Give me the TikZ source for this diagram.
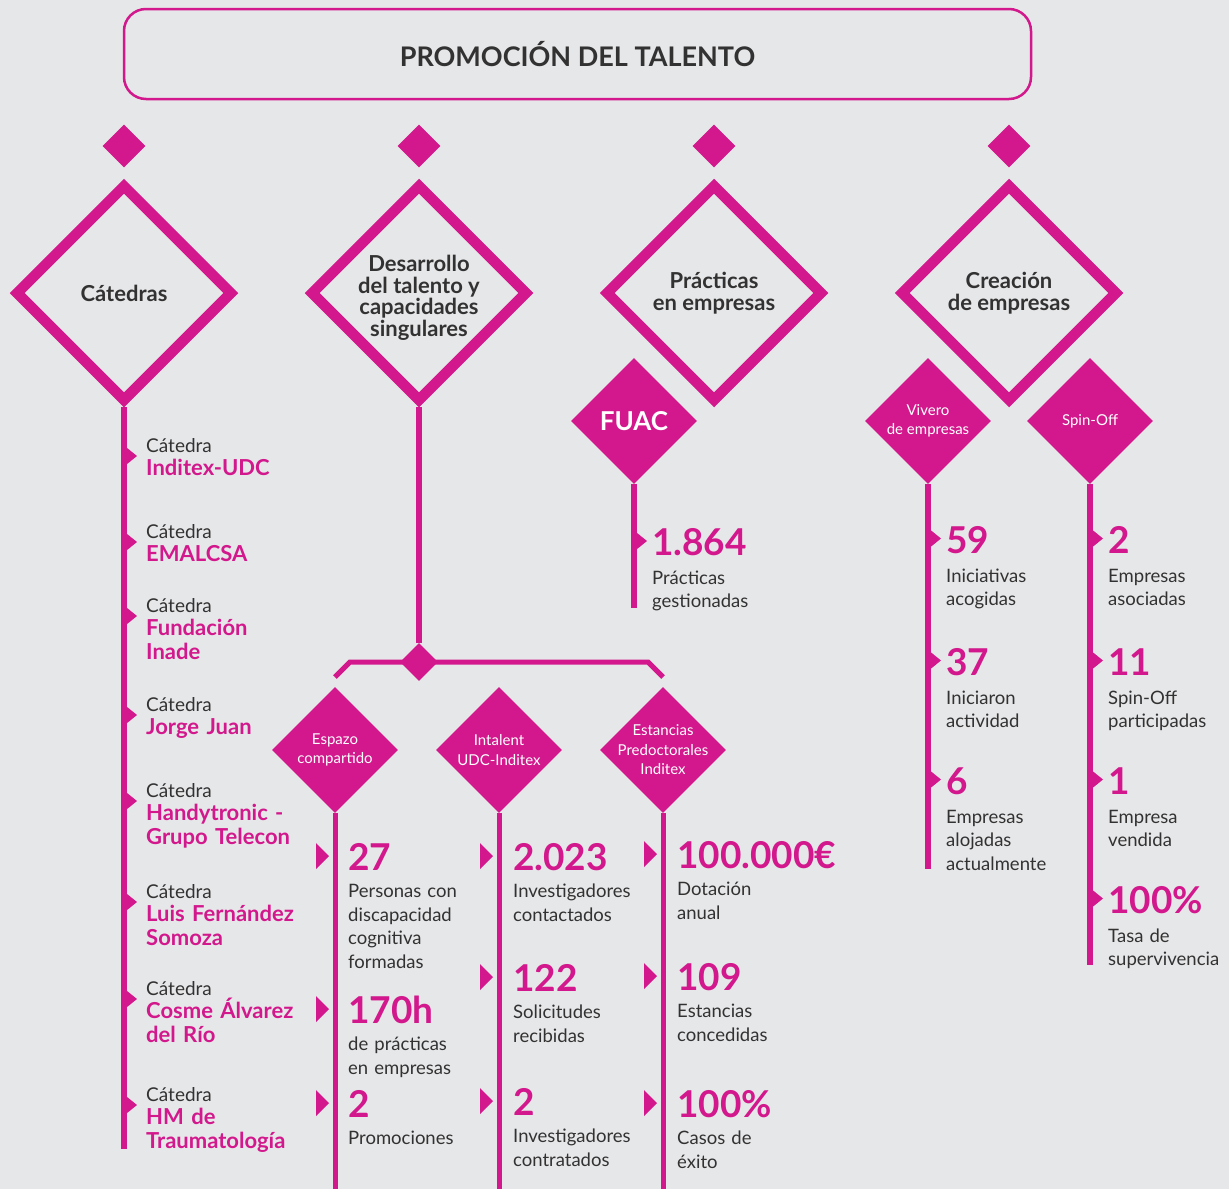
\documentclass[tikz,border=0pt]{standalone}
\usepackage{fontspec}
\setmainfont{Lato}
\usetikzlibrary{shapes.geometric}
\definecolor{mag}{HTML}{D2188C}
\definecolor{bgc}{HTML}{E6E7E8}
\definecolor{ink}{HTML}{333233}
\newcommand{\notch}[2]% #1=x of the stem, #2=y of the mark (mark sticks to the stem)
{\fill[mag] (#1,#2-10.5)--(#1+13,#2)--(#1,#2+10.5)--cycle;}
\newcommand{\pointer}[2]% #1=x of the stem, #2=y of the mark (mark stands apart)
{\fill[mag] (#1-19,#2-13)--(#1-6,#2)--(#1-19,#2+13)--cycle;}
\tikzset{
  titlebox/.style={draw=mag, line width=2.5pt, rounded corners=22pt, minimum width=907pt, minimum height=90pt, text=ink, font=\bfseries\fontsize{27}{27}\selectfont},
  bigdia/.style={diamond, draw=mag, line width=10.5pt, minimum width=218pt, minimum height=218pt, inner sep=0pt, align=center, text=ink, font=\bfseries\fontsize{22}{21.5}\selectfont},
  headtxt/.style={inner sep=0pt, align=center, text=ink, font=\bfseries\fontsize{22}{21.5}\selectfont},
  tinydia/.style={diamond, fill=mag, minimum width=43pt, minimum height=43pt, inner sep=0pt},
  subdia/.style={diamond, fill=mag, minimum width=126pt, minimum height=126pt, inner sep=0pt, align=center, text=white, font=\fontsize{15}{19.5}\selectfont},
  subtxt/.style={inner sep=0pt, align=center, text=white, font=\fontsize{15}{19.5}\selectfont},
  stem/.style={draw=mag, line width=5.5pt},
  bignum/.style={anchor=base west, inner sep=0pt, text=mag, font=\bfseries\fontsize{37}{37}\selectfont},
  desc/.style={anchor=base west, inner sep=0pt, text width=150pt, align=left, text=ink, font=\fontsize{18.5}{23.5}\selectfont},
  catlbl/.style={anchor=base west, inner sep=0pt, text=ink, font=\fontsize{19}{24}\selectfont},
  catname/.style={anchor=base west, inner sep=0pt, text width=170pt, align=left, text=mag, font=\bfseries\fontsize{22}{24}\selectfont},
}
\begin{document}
\begin{tikzpicture}[x=1pt,y=-1pt]
\fill[bgc] (0,0) rectangle (1229,1189);
\useasboundingbox (0,0) rectangle (1229,1189);
% title
\node[titlebox] (title) at (577.5,54) {PROMOCIÓN DEL TALENTO};
\foreach \x [count=\i] in {124,419,714,1009}
  \node[tinydia] (top\i) at (\x,146) {};
% the four branches
\node[bigdia] (catd) at (124,293) {Cátedras};
\node[bigdia] (desd) at (419,293) {};
\node[headtxt] (desl) at (419,298) {Desarrollo\\del talento y\\capacidades\\singulares};
\node[bigdia] (pracd) at (714,293) {Prácticas\\en empresas};
\node[bigdia] (cred) at (1009,293) {Creación\\de empresas};
\node[subdia] (fuacd) at (634,421) {\bfseries\fontsize{26}{26}\selectfont FUAC};
\node[subdia] (vivd) at (928,421) {Vivero\\de empresas};
\node[subdia] (spind) at (1090,421) {Spin-Off};
% Cátedras
\coordinate (catend) at (124,1149);
\draw[stem] (catd.south) -- (catend);
\foreach \yb/\nm [count=\i] in {452/{Inditex-UDC}, 538/{EMALCSA}, 612/{Fundación\\Inade}, 711/{Jorge Juan}, 797/{Handytronic -\\Grupo Telecon}, 898/{Luis Fernández\\Somoza}, 995/{Cosme Álvarez\\del Río}, 1101/{HM de\\Traumatología}}
{
  \notch{124}{\yb+4}
  \node[catlbl] (cat\i) at (146,\yb) {Cátedra};
  \node[catname] (catn\i) at (146,\yb+23.5) {\nm};
}
% Desarrollo del talento
\node[tinydia, minimum width=38pt, minimum height=38pt] (hub) at (419,662) {};
\draw[stem] (desd.south) -- (hub.north);
\coordinate (barL) at (335,677);
\coordinate (barLk) at (350,662);
\coordinate (barRk) at (648,662);
\coordinate (barR) at (663,677);
\draw[stem, line width=5pt] (barL) -- (barLk) -- (barRk) -- (barR);
\node[subdia] (espd) at (335,750) {Espazo\\compartido};
\node[subdia] (intd) at (499,750) {Intalent\\UDC-Inditex};
\node[subdia] (estd) at (663,750) {};
\node[subtxt] (estl) at (estd) {Estancias\\Predoctorales\\Inditex};
\coordinate (espend) at (335,1189);
\coordinate (intend) at (499,1189);
\coordinate (estend) at (663,1189);
\draw[stem, line width=5pt] (espd.south) -- (espend);
\draw[stem, line width=5pt] (intd.south) -- (intend);
\draw[stem, line width=5pt] (estd.south) -- (estend);
\foreach \yb/\num/\txt [count=\i] in {870/27/{Personas con\\discapacidad\\cognitiva\\formadas}, 1023/170h/{de prácticas\\en empresas}, 1117/2/{Promociones}}
{
  \pointer{335}{\yb-14}
  \node[bignum] (esp\i) at (348,\yb) {\num};
  \node[desc] (espt\i) at (348,\yb+27.5) {\txt};
}
\foreach \yb/\num/\txt [count=\i] in {870/{2.023}/{Investigadores\\contactados}, 991/122/{Solicitudes\\recibidas}, 1115/2/{Investigadores\\contratados}}
{
  \pointer{499}{\yb-14}
  \node[bignum] (int\i) at (513,\yb) {\num};
  \node[desc] (intt\i) at (513,\yb+27.5) {\txt};
}
\foreach \yb/\num/\txt [count=\i] in {868/{100.000€}/{Dotación\\anual}, 990/109/{Estancias\\concedidas}, 1117/{100\%}/{Casos de\\éxito}}
{
  \pointer{663}{\yb-14}
  \node[bignum] (est\i) at (677,\yb) {\num};
  \node[desc] (estt\i) at (677,\yb+27.5) {\txt};
}
% Prácticas en empresas
\coordinate (fuacend) at (634,608);
\draw[stem] (fuacd.south) -- (fuacend);
\notch{634}{541}
\node[bignum] (fuac1) at (652,555) {1.864};
\node[desc] (fuact1) at (652,584) {Prácticas\\gestionadas};
% Creación de empresas
\coordinate (vivend) at (928,869);
\coordinate (spinend) at (1090,965);
\draw[stem] (vivd.south) -- (vivend);
\draw[stem] (spind.south) -- (spinend);
\foreach \yb/\num/\txt [count=\i] in {553/59/{Iniciativas\\acogidas}, 675/37/{Iniciaron\\actividad}, 794/6/{Empresas\\alojadas\\actualmente}}
{
  \notch{928}{\yb-14.5}
  \node[bignum] (viv\i) at (946,\yb) {\num};
  \node[desc] (vivt\i) at (946,\yb+29) {\txt};
}
\foreach \yb/\num/\txt [count=\i] in {553/2/{Empresas\\asociadas}, 675/11/{Spin-Off\\participadas}, 794/1/{Empresa\\vendida}, 913/{100\%}/{Tasa de\\supervivencia}}
{
  \notch{1090}{\yb-14.5}
  \node[bignum] (spin\i) at (1108,\yb) {\num};
  \node[desc] (spint\i) at (1108,\yb+29) {\txt};
}
\end{tikzpicture}
\end{document}
